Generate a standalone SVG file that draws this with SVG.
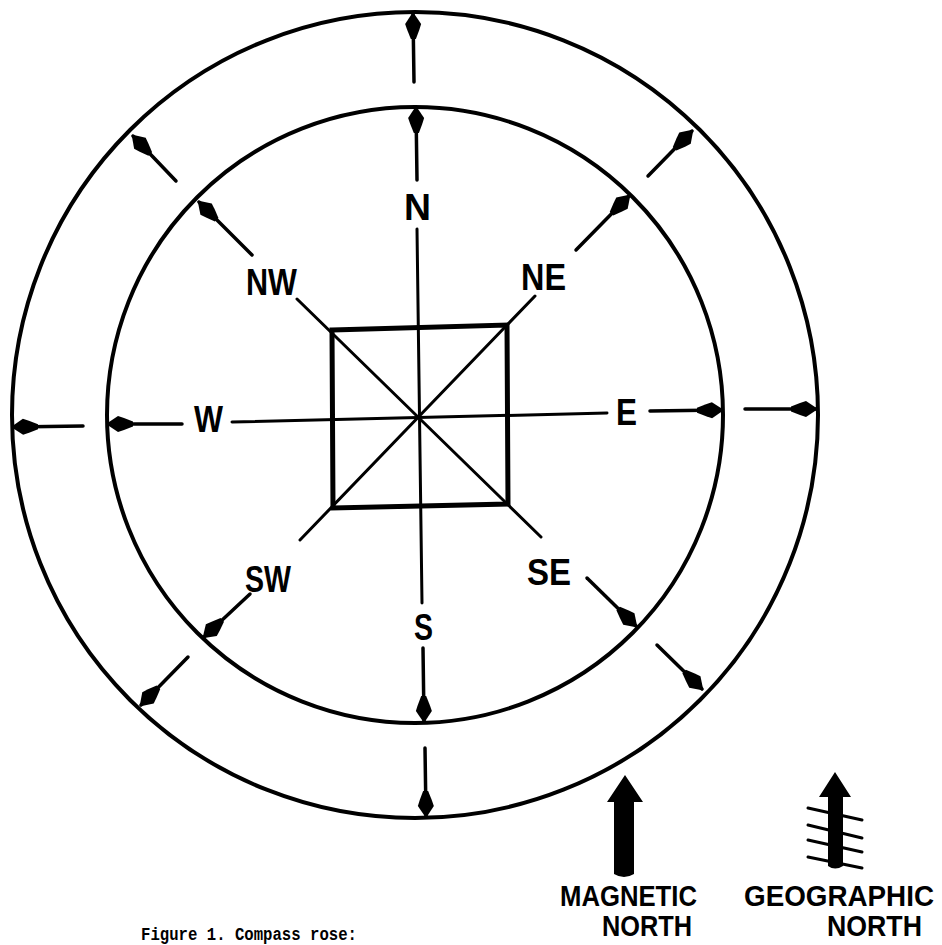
<svg xmlns="http://www.w3.org/2000/svg" width="942" height="945" viewBox="0 0 942 945">
<style>
.ring{fill:none;stroke:#000;stroke-width:4}
.ln{fill:none;stroke:#000;stroke-width:3;stroke-linecap:round}
.ar{fill:none;stroke:#000;stroke-width:3.5;stroke-linecap:round;marker-end:url(#ah)}
.sq{fill:none;stroke:#000;stroke-width:5;stroke-linejoin:miter}
.lbl{font-family:"Liberation Sans",Arial,sans-serif;font-weight:bold;font-size:37px;fill:#000}
.cap{font-family:"Liberation Sans",Arial,sans-serif;font-weight:bold;font-size:29px;fill:#000}
.fig{font-family:"Liberation Mono","Courier New",monospace;font-weight:bold;font-size:18px;fill:#000}
</style>
<defs>
<marker id="ah" markerUnits="userSpaceOnUse" markerWidth="32" markerHeight="22" viewBox="-30 -11 32 22" refX="0" refY="0" orient="auto">
<path d="M2,0 L-10,-8 L-16,-6 L-25,-2.5 L-25,2.5 L-16,6 L-10,8 Z" fill="#000"/>
</marker>
</defs>
<rect width="942" height="945" fill="#fff"/>
<g id="rings">
<circle class="ring" cx="415" cy="415" r="403"/>
<circle class="ring" cx="415" cy="415" r="308"/>
</g>
<g id="center-square">
<path class="sq" d="M332,330 L507,325 L508,504 L333,508 Z"/>
</g>
<g id="connectors">
<line class="ln" x1="417" y1="229" x2="422" y2="603"/>
<line class="ln" x1="232" y1="422" x2="607" y2="413"/>
<line class="ln" x1="297" y1="299" x2="541" y2="537"/>
<line class="ln" x1="535" y1="296" x2="300" y2="540"/>
<line class="ar" x1="417" y1="180" x2="416" y2="108"/>
<line class="ar" x1="423" y1="648" x2="424" y2="721"/>
<line class="ar" x1="182" y1="424" x2="108" y2="424"/>
<line class="ar" x1="650" y1="411" x2="722" y2="410"/>
<line class="ar" x1="252" y1="255" x2="199" y2="202"/>
<line class="ar" x1="576" y1="250" x2="629" y2="196"/>
<line class="ar" x1="587" y1="578" x2="636" y2="626"/>
<line class="ar" x1="250" y1="594" x2="204" y2="637"/>
<line class="ar" x1="414" y1="82" x2="413" y2="14"/>
<line class="ar" x1="425" y1="748" x2="426" y2="816"/>
<line class="ar" x1="83" y1="426" x2="13" y2="427"/>
<line class="ar" x1="745" y1="409" x2="816" y2="409"/>
<line class="ar" x1="176" y1="181" x2="133" y2="136"/>
<line class="ar" x1="648" y1="176" x2="692" y2="131"/>
<line class="ar" x1="657" y1="645" x2="702" y2="689"/>
<line class="ar" x1="188" y1="657" x2="141" y2="705"/>
</g>
<g id="labels">
<text class="lbl" x="404" y="220" textLength="27" lengthAdjust="spacingAndGlyphs">N</text>
<text class="lbl" x="414" y="640" textLength="19" lengthAdjust="spacingAndGlyphs">S</text>
<text class="lbl" x="194" y="432" textLength="29" lengthAdjust="spacingAndGlyphs">W</text>
<text class="lbl" x="616" y="425" textLength="21" lengthAdjust="spacingAndGlyphs">E</text>
<text class="lbl" x="246" y="295" textLength="51" lengthAdjust="spacingAndGlyphs">NW</text>
<text class="lbl" x="521" y="290" textLength="45" lengthAdjust="spacingAndGlyphs">NE</text>
<text class="lbl" x="245" y="592" textLength="46" lengthAdjust="spacingAndGlyphs">SW</text>
<text class="lbl" x="527" y="585" textLength="44" lengthAdjust="spacingAndGlyphs">SE</text>
</g>
<g id="magnetic-north">
<path d="M625,775 L643,802 L634,802 L634,874 Q624,880 614,874 L614,802 L607,802 Z" fill="#000"/>
<text class="cap" x="560" y="906" textLength="137" lengthAdjust="spacingAndGlyphs">MAGNETIC</text>
<text class="cap" x="602" y="936" textLength="90" lengthAdjust="spacingAndGlyphs">NORTH</text>
</g>
<g id="geographic-north">
<path d="M835,772 L851,797 L843,797 L843,866 Q835,871 828,866 L828,797 L819,797 Z" fill="#000"/>
<g class="ln" stroke-width="3.5">
<line x1="808" y1="808" x2="862" y2="820"/>
<line x1="808" y1="825" x2="862" y2="838"/>
<line x1="808" y1="840" x2="862" y2="852"/>
<line x1="808" y1="857" x2="862" y2="868"/>
</g>
<text class="cap" x="744" y="906" textLength="190" lengthAdjust="spacingAndGlyphs">GEOGRAPHIC</text>
<text class="cap" x="827" y="936" textLength="95" lengthAdjust="spacingAndGlyphs">NORTH</text>
</g>
<g id="caption">
<text class="fig" x="141" y="940" textLength="216" lengthAdjust="spacingAndGlyphs">Figure 1. Compass rose:</text>
</g>
</svg>
